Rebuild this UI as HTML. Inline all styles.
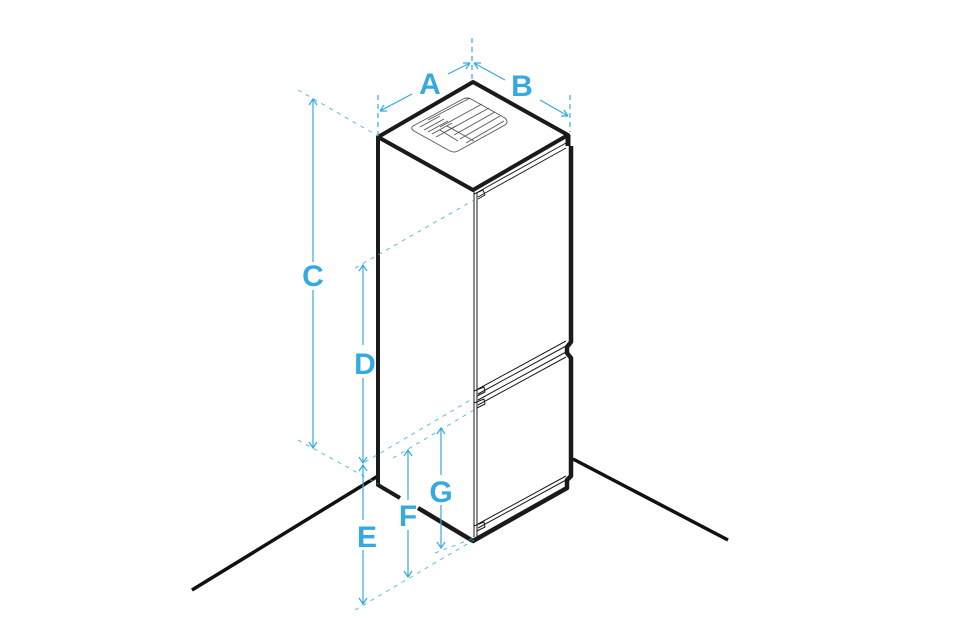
<!DOCTYPE html>
<html><head><meta charset="utf-8"><style>
html,body{margin:0;padding:0;background:#fff;width:960px;height:640px;overflow:hidden}
svg{display:block}
text{font-family:"Liberation Sans",sans-serif;font-weight:bold;fill:#36a9e1;font-size:30px;text-anchor:middle}
</style></head><body>
<svg width="960" height="640" viewBox="0 0 960 640">
<!-- floor lines -->
<path d="M378,476 L192,590" stroke="#111" stroke-width="3.5" fill="none"/>
<path d="M192,590 L260,548" stroke="#111" stroke-width="1.5" fill="none"/>
<path d="M573,459 L728,540" stroke="#111" stroke-width="3.5" fill="none"/>
<!-- fridge body -->
<g fill="none" stroke="#1a1a1a" stroke-linejoin="round">
<path d="M378,137 L473,82 L568,135 L473,190 Z" stroke-width="4" fill="#fff"/>
<path d="M378,137 L378,478" stroke-width="4"/>
<path d="M571,146 L571,342 L567,347 L567,353 L571,358 L571,476 L567,480 L567,488 L473,541 L418,508" stroke-width="4.5"/>
<path d="M400,498 L378,485 L378,478" stroke-width="4"/>
<path d="M568,135 L568,146" stroke-width="5"/>
<!-- doors -->
<g stroke-width="1">
<path d="M474,190 L474,537"/>
<path d="M477,193 L477,537"/>
<path d="M478,192 L566,143 M478,197 L566,148"/>
<path d="M474,194 L483,190 L485,195 L478,199"/>
<path d="M478,389 L566,341 M478,394 L566,346"/>
<path d="M474,391 L484,387 L485,392 L477,396"/>
<path d="M478,400 L566,352 M478,405 L566,357"/>
<path d="M474,403 L484,399 L485,404 L477,408"/>
<path d="M478,524 L566,476 M478,528 L566,480"/>
<path d="M474,526 L484,522 L485,527 L477,531"/>
</g>
<!-- tray -->
<g stroke="#555" stroke-width="0.9">
<path d="M413,126 L463,99 Q467,97 471,99 L505,118 Q509,122 505,125 L458,151 Q454,153 450,151 L414,131 Q410,128 413,126 Z"/>
<path d="M428,120 L470,98 M440,127 L482,104 M447,131 L489,108 M454,135 L495,112 M460,139 L500,116 M466,143 L504,121"/>
<path d="M420,127 L440,116 M424,130 L444,119 M428,132 L448,121 M432,134 L452,123 M436,137 L456,126"/>
<path d="M440,130 L458,141 M447,126 L474,141"/>
</g>
</g>
<!-- dimensions -->
<g stroke="#36a9e1" fill="none" stroke-width="1.2">
<g stroke-dasharray="5,4">
<path d="M378,95 L378,140 M472,38 L472,80 M570,95 L570,132"/>
</g>
<g stroke-dasharray="4,5" stroke-width="1" opacity="0.8">
<path d="M298,90 L378,136"/>
<path d="M298,440 L378,484"/>
<path d="M355,268 L474,200"/>
<path d="M365,462 L474,398"/>
<path d="M393,458 L474,410"/>
<path d="M355,610 L474,540"/>
<path d="M435,553 L474,538"/>
</g>
<path d="M380,111 L412,94 M448,74 L470,63 M474,63 L505,80 M540,100 L568,116"/>
<path d="M313,99 L313,262 M313,290 L313,448"/>
<path d="M363,265 L363,345 M363,378 L363,463"/>
<path d="M363,465 L363,520 M363,550 L363,604"/>
<path d="M408,450 L408,500 M408,530 L408,577"/>
<path d="M441,428 L441,475 M441,505 L441,548"/>
<!-- arrowheads -->
<path d="M380,111 l7,0 M380,111 l4,-6"/>
<path d="M470,63 l-7,0 M470,63 l-4,6 M474,63 l7,0 M474,63 l4,6"/>
<path d="M568,116 l-7,0 M568,116 l-4,-6"/>
<path d="M309,105 L313,99 L317,105 M309,442 L313,448 L317,442"/>
<path d="M359,271 L363,265 L367,271 M359,457 L363,463 L367,457"/>
<path d="M359,471 L363,465 L367,471 M359,598 L363,604 L367,598"/>
<path d="M404,456 L408,450 L412,456 M404,571 L408,577 L412,571"/>
<path d="M437,434 L441,428 L445,434 M437,542 L441,548 L445,542"/>
</g>
<text x="430" y="94">A</text>
<text x="522" y="96">B</text>
<text x="313" y="286">C</text>
<text x="365" y="374">D</text>
<text x="367" y="547">E</text>
<text x="408" y="526">F</text>
<text x="441" y="502">G</text>
</svg>
</body></html>
